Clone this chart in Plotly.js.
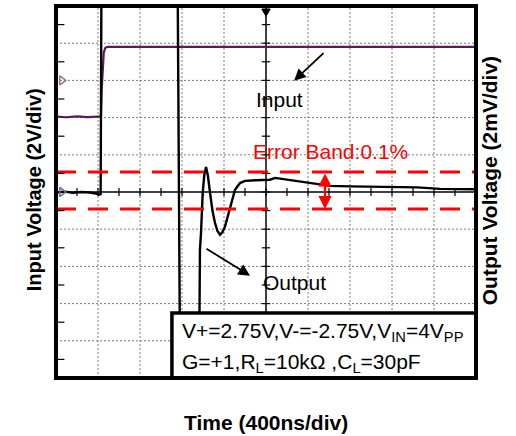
<!DOCTYPE html>
<html>
<head>
<meta charset="utf-8">
<script src="https://cdn.plot.ly/plotly-3.0.1.min.js"></script>
<style>html,body{margin:0;padding:0;background:#fff}#chart{width:516px;height:436px}</style>
</head>
<body>
<div id="chart"></div>
<script>
// Time axis: 400 ns/div, 10 divisions
var inputTimeNs = [0, 100, 200, 300, 400, 428, 436, 445, 455, 470, 490, 1000, 2000, 3000, 4000];
// Input voltage (V), 2 V/div, screen centre = 0
var inputV = [4.05, 4.02, 4.07, 4.03, 4.05, 4.05, 5.6, 6.9, 7.5, 7.75, 7.8, 7.8, 7.82, 7.8, 7.8];

var outputTimeNs = [0, 80, 160, 240, 320, 380, 410, 425, 432, 1160, 1182, 1362, 1371, 1381, 1397, 1412, 1429, 1446, 1467, 1490, 1514, 1538, 1562, 1586, 1610, 1634, 1657, 1681, 1705, 1752, 1800, 1900, 2038, 2086, 2200, 2324, 2450, 2610, 2800, 3114, 3300, 3438, 3657, 3850, 4000];
// Output voltage (mV), 2 mV/div (values at +/-10 are at the screen edge, i.e. off-scale)
var outputMv = [-0.03, 0.02, -0.04, 0.0, -0.03, -0.08, -0.15, -0.12, 10, 10, -10, -10, -3.1, -2.2, -0.06, 0.9, 1.35, 0.9, -0.04, -1.0, -1.66, -2.1, -2.3, -2.15, -1.85, -1.35, -0.78, -0.3, 0.12, 0.48, 0.6, 0.63, 0.66, 0.76, 0.66, 0.55, 0.45, 0.33, 0.3, 0.28, 0.27, 0.25, 0.17, 0.14, 0.15];

// Error band limits (mV)
var bandTimeNs = [0, 4000];
var bandUpperMv = [1.08, 1.08];
var bandLowerMv = [-0.92, -0.92];

// Channel reference markers (left edge)
var ch1MarkerV = [6.0];
var ch2MarkerMv = [0.0];
var markerTimeNs = [55];

var FONT = 'Liberation Sans, Arial, sans-serif';

var traces = [
  {x: inputTimeNs, y: inputV, type: 'scatter', mode: 'lines', yaxis: 'y',
   line: {color: '#5a1c55', width: 2.2}, hoverinfo: 'skip'},
  {x: outputTimeNs, y: outputMv, type: 'scatter', mode: 'lines', yaxis: 'y2',
   line: {color: '#000000', width: 2.4}, hoverinfo: 'skip'},
  {x: bandTimeNs, y: bandUpperMv, type: 'scatter', mode: 'lines', yaxis: 'y2',
   line: {color: '#ff0000', width: 3, dash: '20px,12px'}, hoverinfo: 'skip'},
  {x: bandTimeNs, y: bandLowerMv, type: 'scatter', mode: 'lines', yaxis: 'y2',
   line: {color: '#ff0000', width: 3, dash: '20px,12px'}, hoverinfo: 'skip'},
  {x: markerTimeNs, y: ch1MarkerV, type: 'scatter', mode: 'markers', yaxis: 'y',
   marker: {symbol: 'triangle-right-open', size: 8, color: '#9a6a9a', line: {width: 1.5}}, hoverinfo: 'skip'},
  {x: markerTimeNs, y: ch2MarkerMv, type: 'scatter', mode: 'markers', yaxis: 'y2',
   marker: {symbol: 'triangle-right-open', size: 8, color: '#6070a0', line: {width: 1.5}}, hoverinfo: 'skip'}
];

var shapes = [];
// graticule (dotted)
for (var gx = 400; gx < 4000; gx += 400) {
  if (gx !== 2000) shapes.push({type: 'line', xref: 'x', yref: 'y', x0: gx, x1: gx, y0: -10, y1: 10, line: {color: '#7d7d7d', width: 1, dash: '2px,2px'}, layer: 'below'});
}
for (var gy = -8; gy <= 8; gy += 2) {
  if (gy !== 0) shapes.push({type: 'line', xref: 'x', yref: 'y', x0: 0, x1: 4000, y0: gy, y1: gy, line: {color: '#7d7d7d', width: 1, dash: '2px,2px'}, layer: 'below'});
}
// centre cross lines with half-division ticks
shapes.push({type: 'line', xref: 'x', yref: 'y', x0: 0, x1: 4000, y0: 0, y1: 0, line: {color: '#000', width: 1.5}, layer: 'below'});
shapes.push({type: 'line', xref: 'x', yref: 'y', x0: 2000, x1: 2000, y0: -10, y1: 10, line: {color: '#000', width: 1.5}, layer: 'below'});
for (var t = 200; t < 4000; t += 200) {
  shapes.push({type: 'line', xref: 'x', yref: 'y', x0: t, x1: t, y0: -0.22, y1: 0.22, line: {color: '#000', width: 1.2}, layer: 'below'});
}
for (var v = -9; v < 10; v += 1) {
  shapes.push({type: 'line', xref: 'x', yref: 'y', x0: 1960, x1: 2040, y0: v, y1: v, line: {color: '#000', width: 1.2}, layer: 'below'});
}
// left-edge half-division ticks
for (var q = -9; q < 10; q += 2) {
  shapes.push({type: 'line', xref: 'paper', yref: 'y', x0: 0, x1: 0.02, y0: q, y1: q, line: {color: '#000', width: 1.2}, layer: 'above'});
}
// mask anything drawn beyond the top edge
shapes.push({type: 'rect', xref: 'paper', yref: 'paper', x0: -0.01, x1: 1.01, y0: 1.0, y1: 1.02, fillcolor: '#fff', line: {width: 0}, layer: 'above'});
// trigger marker
shapes.push({type: 'path', xref: 'paper', yref: 'paper', path: 'M 0.49,0.992 L 0.51,0.992 L 0.5,0.972 Z', fillcolor: '#000', line: {color: '#000', width: 1}, layer: 'above'});
// condition box
shapes.push({type: 'rect', xref: 'paper', yref: 'paper', x0: 0.276, x1: 1.0, y0: 0.0, y1: 0.175, fillcolor: '#fff', line: {color: '#000', width: 3.5}, layer: 'above'});
// plot frame
shapes.push({type: 'rect', xref: 'paper', yref: 'paper', x0: 0, x1: 1, y0: 0, y1: 1, line: {color: '#000', width: 4}, layer: 'above'});

var annotations = [
  {xref: 'x', yref: 'y', x: 2267, y: 5.98, ax: 2562, ay: 7.54, axref: 'x', ayref: 'y', text: '', showarrow: true,
   arrowhead: 2, arrowsize: 1.3, arrowwidth: 1.8, arrowcolor: '#000'},
  {xref: 'x', yref: 'y', x: 2133, y: 4.96, text: 'Input', showarrow: false, font: {family: FONT, size: 21, color: '#000'}},
  {xref: 'x', yref: 'y', x: 1848, y: -4.5, ax: 1419, ay: -3.0, axref: 'x', ayref: 'y', text: '', showarrow: true,
   arrowhead: 2, arrowsize: 1.3, arrowwidth: 1.8, arrowcolor: '#000'},
  {xref: 'x', yref: 'y', x: 2267, y: -4.88, text: 'Output', showarrow: false, font: {family: FONT, size: 21, color: '#000'}},
  {xref: 'x', yref: 'y2', x: 1857, y: 2.16, xanchor: 'left', text: 'Error Band:0.1%', showarrow: false, font: {family: FONT, size: 21, color: '#ff0000'}},
  {xref: 'x', yref: 'y2', x: 2562, y: -0.92, ax: 2562, ay: 1.08, axref: 'x', ayref: 'y2', text: '', showarrow: true,
   arrowside: 'end+start', arrowhead: 2, arrowsize: 1.2, arrowwidth: 2.2, arrowcolor: '#ff0000'},
  {xref: 'x', yref: 'y', x: 1181, y: -7.52, xanchor: 'left', text: 'V+=2.75V,V-=-2.75V,V<sub>IN</sub>=4V<sub>PP</sub>', showarrow: false, font: {family: FONT, size: 21, color: '#000'}},
  {xref: 'x', yref: 'y', x: 1181, y: -9.18, xanchor: 'left', text: 'G=+1,R<sub>L</sub>=10kΩ ,C<sub>L</sub>=30pF', showarrow: false, font: {family: FONT, size: 21, color: '#000'}},
  {xref: 'paper', yref: 'paper', x: 0.5, y: -0.155, text: '<b>Time (400ns/div)</b>', showarrow: false, font: {family: FONT, size: 21, color: '#000'}},
  {xref: 'paper', yref: 'paper', x: -0.083, y: 0.505, textangle: -90, text: '<b>Input Voltage (2V/div)</b>', showarrow: false, font: {family: FONT, size: 20, color: '#000'}},
  {xref: 'paper', yref: 'paper', x: 1.064, y: 0.53, textangle: -90, text: '<b>Output Voltage (2mV/div)</b>', showarrow: false, font: {family: FONT, size: 21, color: '#000'}}
];

var layout = {
  width: 516, height: 436,
  margin: {l: 56, r: 40, t: 6, b: 58, pad: 0},
  paper_bgcolor: '#fff', plot_bgcolor: '#fff',
  showlegend: false,
  font: {family: FONT, color: '#000'},
  xaxis: {range: [0, 4000], dtick: 400, tick0: 0, showgrid: false, zeroline: false, showticklabels: false, ticks: '', showline: false, fixedrange: true},
  yaxis: {range: [-10, 10], dtick: 2, tick0: 0, showgrid: false, zeroline: false, showticklabels: false, ticks: '', showline: false, fixedrange: true},
  yaxis2: {range: [-10, 10], overlaying: 'y', side: 'right', showgrid: false, zeroline: false, showticklabels: false, ticks: '', showline: false, fixedrange: true},
  shapes: shapes,
  annotations: annotations
};

Plotly.newPlot('chart', traces, layout, {displayModeBar: false});
</script>
</body>
</html>
